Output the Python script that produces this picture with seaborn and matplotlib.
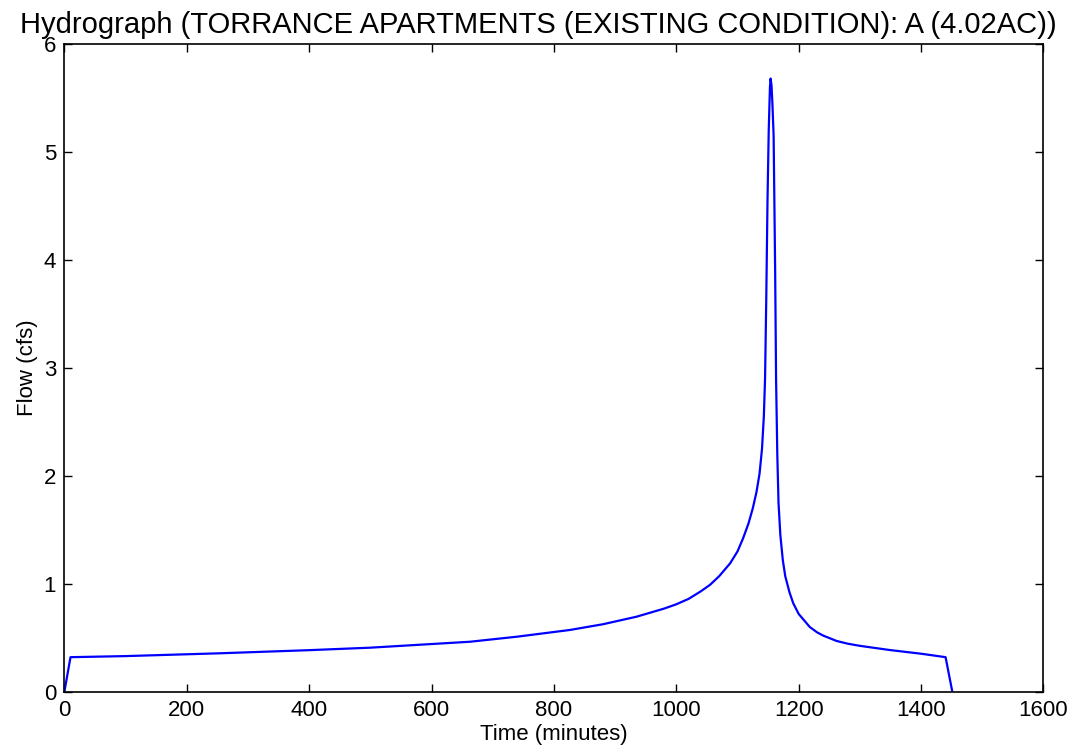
import matplotlib
matplotlib.use('Agg')

import matplotlib.pyplot as plt
import pandas as pd
import seaborn as sns

# hydrograph values
time_min = [0, 10, 100, 254, 400, 500, 580, 663, 740, 826, 880, 935, 980,
            1000, 1020, 1040, 1055, 1070, 1088, 1100, 1109, 1118, 1125, 1131,
            1136, 1140, 1143, 1145, 1147, 1149, 1151, 1153, 1154, 1155.5,
            1157, 1159, 1161.5, 1163, 1165, 1167, 1170, 1174, 1178, 1185,
            1191, 1200, 1218, 1230, 1240, 1262, 1280, 1300, 1349, 1400, 1440,
            1451]
flow_cfs = [0.0, 0.32, 0.33, 0.356, 0.385, 0.408, 0.435, 0.463, 0.51, 0.572,
            0.625, 0.695, 0.77, 0.81, 0.86, 0.93, 0.99, 1.07, 1.19, 1.30,
            1.42, 1.56, 1.70, 1.85, 2.02, 2.25, 2.55, 2.90, 3.65, 4.55, 5.20,
            5.60, 5.68, 5.62, 5.45, 5.15, 3.90, 2.90, 2.20, 1.75, 1.45, 1.22,
            1.07, 0.92, 0.82, 0.72, 0.60, 0.55, 0.52, 0.47, 0.445, 0.425,
            0.386, 0.352, 0.32, 0.0]

df = pd.DataFrame({'Time (minutes)': time_min, 'Flow (cfs)': flow_cfs})

sns.set_style("ticks")
plt.rcParams['font.family'] = ['Liberation Sans', 'DejaVu Sans']
plt.rcParams['text.color'] = 'black'
plt.rcParams['axes.labelcolor'] = 'black'

fig = plt.figure(figsize=(10.73, 7.54), dpi=100)
ax = fig.add_axes([0.060, 0.0826, 0.9125, 0.859])

sns.lineplot(data=df, x='Time (minutes)', y='Flow (cfs)', color='blue',
             linewidth=1.6, ax=ax)

ax.set_xlim(0, 1600)
ax.set_ylim(0, 6)
ax.set_xticks(range(0, 1601, 200))
ax.set_yticks(range(0, 7))
ax.tick_params(direction='in', top=True, right=True, length=6, width=1,
               labelsize=16, pad=6, colors='black')
for s in ax.spines.values():
    s.set_color('black')
    s.set_linewidth(1.2)

ax.set_xlabel('Time (minutes)', fontsize=16, labelpad=2)
ax.set_ylabel('Flow (cfs)', fontsize=16, labelpad=4)
ax.set_title('Hydrograph (TORRANCE APARTMENTS (EXISTING CONDITION): A (4.02AC))',
             fontsize=21, pad=8, x=0.484, color='black')

plt.savefig('out.png', dpi=100)
